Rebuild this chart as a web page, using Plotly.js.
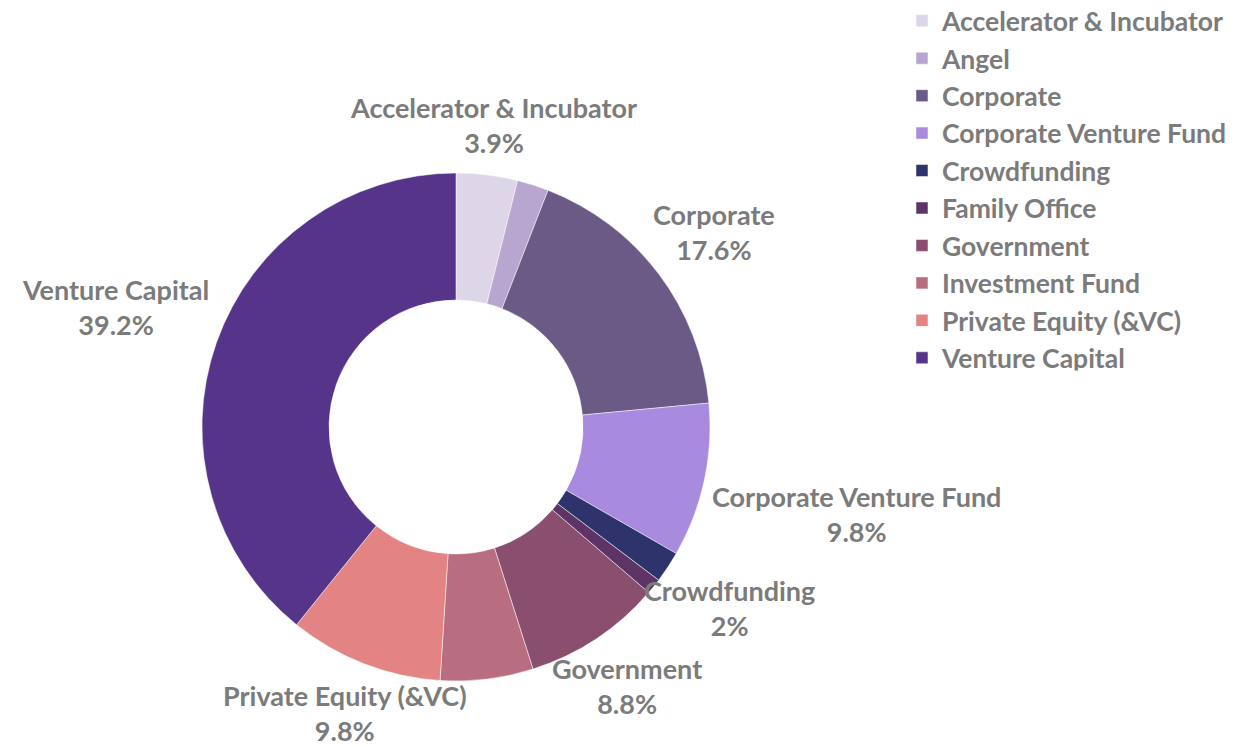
<!DOCTYPE html>
<html>
<head>
<meta charset="utf-8">
<script src="https://cdn.plot.ly/plotly-3.0.1.min.js"></script>
<style>html,body{margin:0;padding:0;background:#fff;}#chart{width:1239px;height:747px;}</style>
</head>
<body>
<div id="chart"></div>
<script>
const categories = ["Accelerator & Incubator", "Angel", "Corporate", "Corporate Venture Fund", "Crowdfunding", "Family Office", "Government", "Investment Fund", "Private Equity (&VC)", "Venture Capital"];
const shares = [3.9, 2, 17.6, 9.8, 2, 1, 8.8, 5.9, 9.8, 39.2];
const showLabel = [true, false, true, true, true, false, true, false, true, true];
const colors = ["#ddd6e8", "#b9a6d0", "#6c5a86", "#a88ade", "#2e336c", "#5c3566", "#8a4f6f", "#b86e80", "#e38383", "#55348a"];

const W = 1239, H = 747;
const cx = 456, cy = 427, R = 254;
const FONT = "Lato, 'Open Sans', sans-serif";
const FS = 27;
const GAP = 22;

const trace = {
  type: "pie",
  labels: categories,
  values: shares,
  textinfo: "none",
  hole: 0.5,
  sort: false,
  direction: "clockwise",
  rotation: 0,
  marker: { colors: colors, line: { color: "#ffffff", width: 0.5 } },
  domain: { x: [(cx - R) / W, (cx + R) / W], y: [(H - cy - R) / H, (H - cy + R) / H] },
  hoverinfo: "label+value"
};

// outside labels: centred on each slice's mid-angle ray, just beyond the ring
const ctx = document.createElement("canvas").getContext("2d");
ctx.font = "bold " + FS + "px Lato";
const total = shares.reduce((a, b) => a + b, 0);
const annotations = [];
let cum = 0;
shares.forEach((v, i) => {
  const mid = (cum + v / 2) / total * 2 * Math.PI;
  cum += v;
  if (!showLabel[i]) return;
  const pct = v + "%";
  const ux = Math.sin(mid), uy = -Math.cos(mid);
  const hw = Math.max(ctx.measureText(categories[i]).width, ctx.measureText(pct).width) / 2;
  const hh = FS * 1.05;
  const d = Math.min(Math.abs(ux) > 1e-6 ? hw / Math.abs(ux) : 1e9, Math.abs(uy) > 1e-6 ? hh / Math.abs(uy) : 1e9);
  const dist = R + GAP + d;
  annotations.push({
    xref: "paper", yref: "paper", x: cx / W, y: 1 - cy / H,
    xanchor: "center", yanchor: "middle",
    xshift: ux * dist, yshift: -uy * dist,
    text: categories[i] + "<br>" + pct,
    showarrow: false, align: "center",
    font: { family: FONT, size: FS, color: "#7b7b7b", weight: "bold" }
  });
});

const layout = {
  width: W,
  height: H,
  margin: { l: 0, r: 0, t: 0, b: 0, autoexpand: false },
  paper_bgcolor: "#ffffff",
  showlegend: true,
  legend: {
    x: 0.728, y: 1.004, xanchor: "left", yanchor: "top",
    font: { family: FONT, size: 26.5, color: "#7b7b7b", weight: "bold" },
    traceorder: "normal"
  },
  annotations: annotations,
  font: { family: FONT }
};

Plotly.newPlot("chart", [trace], layout, { displayModeBar: false, staticPlot: true });
</script>
</body>
</html>
